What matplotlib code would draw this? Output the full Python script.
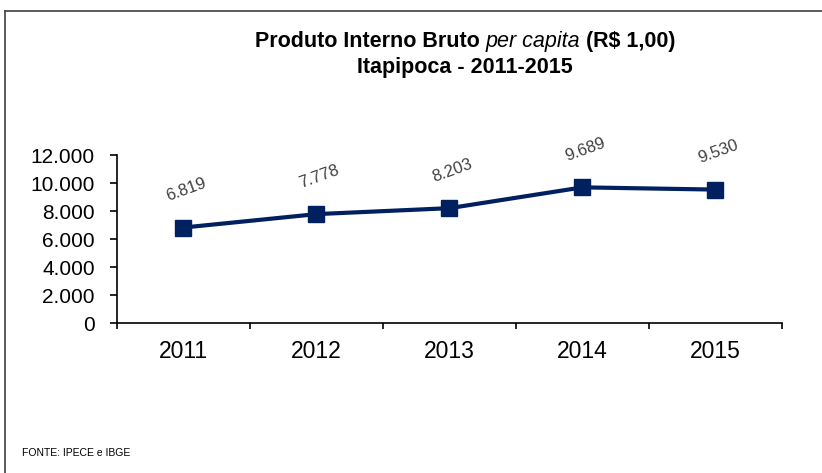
import matplotlib.pyplot as plt
from matplotlib.ticker import FixedLocator, FuncFormatter
from matplotlib.lines import Line2D

plt.rcParams['font.family'] = ['Liberation Sans', 'DejaVu Sans']

anos = ['2011', '2012', '2013', '2014', '2015']
pib_per_capita = [6819, 7778, 8203, 9689, 9530]
rotulos = ['6.819', '7.778', '8.203', '9.689', '9.530']
y_ticks = [0, 2000, 4000, 6000, 8000, 10000, 12000]

fig = plt.figure(figsize=(8.22, 4.73), dpi=100)
ax = fig.add_axes([0.1423, 0.3171, 0.8090, 0.3552])

x = list(range(len(anos)))
ax.plot(x, pib_per_capita, color='#002060', linewidth=3, marker='s',
        markersize=11, zorder=3)

for xi, yi, lab in zip(x, pib_per_capita, rotulos):
    ax.annotate(lab, (xi, yi), xytext=(2, 27), textcoords='offset points',
                ha='center', va='center', rotation=20, fontsize=12,
                color='#404040')

ax.set_xlim(-0.5, len(anos) - 0.5)
ax.set_ylim(0, 12000)
ax.set_yticks(y_ticks)
ax.yaxis.set_major_formatter(FuncFormatter(lambda v, p: f'{int(v):,}'.replace(',', '.')))
ax.set_xticks(x)
ax.set_xticklabels(anos)
ax.xaxis.set_minor_locator(FixedLocator([i - 0.5 for i in range(len(anos) + 1)]))
ax.tick_params(axis='x', which='major', length=0, pad=12, labelsize=16.5)
ax.tick_params(axis='x', which='minor', length=4, width=1.2, direction='out')
ax.tick_params(axis='y', length=5, width=1.2, labelsize=15, pad=11)

for s in ['top', 'right']:
    ax.spines[s].set_visible(False)
for s in ['left', 'bottom']:
    ax.spines[s].set_linewidth(1.2)

# titulo em tres partes (italico no meio)
partes = [('Produto Interno Bruto ', 'normal', 'bold'),
          ('per capita', 'italic', 'normal'),
          (' (R$ 1,00)', 'normal', 'bold')]
fig.canvas.draw()
r = fig.canvas.get_renderer()
objs = []
for txt, st, wt in partes:
    t = fig.text(0, 0.913, txt, ha='left', va='center', fontsize=15.5,
                 style=st, fontweight=wt, parse_math=False)
    objs.append(t)
larg = [t.get_window_extent(r).width for t in objs]
x0 = 0.566 * fig.bbox.width - sum(larg) / 2
for t, w in zip(objs, larg):
    t.set_x(x0 / fig.bbox.width)
    x0 += w
fig.text(0.566, 0.857, 'Itapipoca - 2011-2015', ha='center', va='center',
         fontsize=15.5, fontweight='bold')
fig.text(0.027, 0.043, 'FONTE: IPECE e IBGE', ha='left', va='center', fontsize=7.5)

# moldura
fig.add_artist(Line2D([0.006, 1.0], [0.977, 0.977], color='#404040', lw=1.2,
                      transform=fig.transFigure))
fig.add_artist(Line2D([0.006, 0.006], [0.0, 0.977], color='#404040', lw=1.2,
                      transform=fig.transFigure))

fig.savefig('out.png', dpi=100)
